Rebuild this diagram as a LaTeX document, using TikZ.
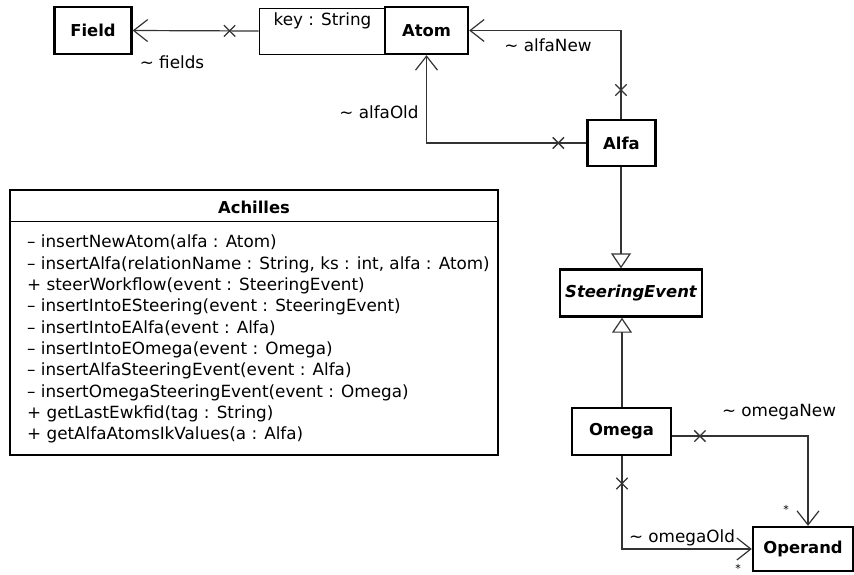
\documentclass[tikz,border=0pt]{standalone}
\usepackage{fontspec}
\setmainfont{DejaVu Sans}
\usetikzlibrary{arrows.meta,shapes.misc,calc}
\begin{document}
\begin{tikzpicture}[x=1pt,y=-1pt,
  cls/.style={draw=black,line width=2.4pt,fill=white,inner sep=0pt,font=\bfseries\fontsize{16.4}{18}\selectfont},
  qual/.style={draw=black,line width=1pt,fill=white,inner sep=0pt},
  conn/.style={draw=black!80,line width=1.2pt},
  nav/.style={conn,-{Straight Barb[length=14pt,width=22pt,line width=1.2pt]}},
  gen/.style={conn,-{Triangle[open,length=15pt,width=20pt,line width=1.2pt,fill=white]}},
  xm/.style={draw=black!80,cross out,line width=1.3pt,minimum size=10pt,inner sep=0pt},
  lbl/.style={font=\fontsize{16.8}{18}\selectfont,inner sep=0pt},
  mult/.style={font=\fontsize{11}{12}\selectfont,inner sep=0pt}]
\useasboundingbox (0,0) rectangle (854,574);
% classes
\node[cls,minimum width=77pt,minimum height=47pt] (field) at (93,30.5) {Field};
\node[qual,minimum width=127pt,minimum height=46pt] (qual) at (322.5,31) {};
\node[lbl] (key) at (322.5,21) {key : String};
\node[cls,minimum width=83pt,minimum height=47pt] (atom) at (426.5,30.5) {Atom};
\node[cls,minimum width=68pt,minimum height=46pt] (alfa) at (621.5,143) {Alfa};
\node[cls,minimum width=142pt,minimum height=47pt,font=\bfseries\itshape\fontsize{16.4}{18}\selectfont] (se) at (631,293) {SteeringEvent};
\node[cls,minimum width=99pt,minimum height=47pt] (omega) at (621.5,431.5) {Omega};
\node[cls,minimum width=100pt,minimum height=44pt] (operand) at (803,549) {Operand};
% Achilles
\node[cls,minimum width=488pt,minimum height=265pt] (ach) at (254,322.5) {};
\node[font=\bfseries\fontsize{16.4}{18}\selectfont,inner sep=0pt] (achname) at (254,207) {Achilles};
\draw[line width=1pt] ($(ach.north west)+(0,33)$) coordinate (dl) -- (dl -| ach.east);
\node[anchor=north west,align=left,inner sep=0pt,font=\fontsize{16.8}{21.3}\selectfont] (ops) at (27,235) {%
– insertNewAtom(alfa : Atom)\\
– insertAlfa(relationName : String, ks : int, alfa : Atom)\\
+ steerWorkflow(event : SteeringEvent)\\
– insertIntoESteering(event : SteeringEvent)\\
– insertIntoEAlfa(event : Alfa)\\
– insertIntoEOmega(event : Omega)\\
– insertAlfaSteeringEvent(event : Alfa)\\
– insertOmegaSteeringEvent(event : Omega)\\
+ getLastEwkfid(tag : String)\\
+ getAlfaAtomsIkValues(a : Alfa)};
% connectors
\draw[nav] (qual.west) -- node[xm,pos=0.23]{} (field.east);
\node[lbl] (lfields) at (172,62) {\textasciitilde{} fields};
\draw[nav] ([xshift=-0.5pt]alfa.north) |- node[xm,pos=0.163]{} (atom.east);
\node[lbl] (lalfanew) at (548,45) {\textasciitilde{} alfaNew};
\draw[nav] (alfa.west) -| node[xm,pos=0.0875]{} (atom.south);
\node[lbl] (lalfaold) at (379,112) {\textasciitilde{} alfaOld};
\draw[gen] ([xshift=-0.5pt]alfa.south) -- ([xshift=-0.5pt]alfa.south |- se.north);
\draw[gen] ([xshift=0.5pt]omega.north) -- ([xshift=0.5pt]omega.north |- se.south);
\draw[nav] ([yshift=-4.5pt]omega.east) -| node[xm,pos=0.102]{} ([xshift=5pt]operand.north);
\node[lbl] (lomeganew) at (779,412) {\textasciitilde{} omegaNew};
\node[mult] (m1) at (786,509) {*};
\draw[nav] ([xshift=0.5pt]omega.south) |- node[xm,pos=0.147]{} (operand.west);
\node[lbl] (lomegaold) at (682,538) {\textasciitilde{} omegaOld};
\node[mult] (m2) at (738,568) {*};
\end{tikzpicture}
\end{document}
